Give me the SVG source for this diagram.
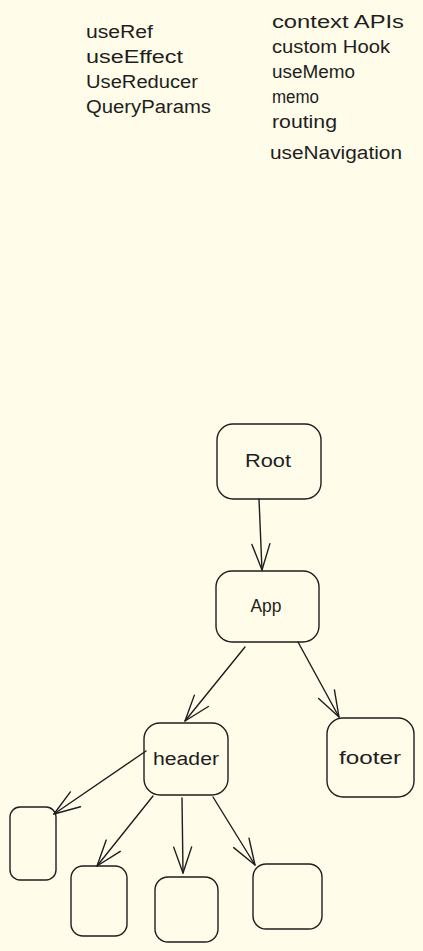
<svg xmlns="http://www.w3.org/2000/svg" width="423" height="951" viewBox="0 0 423 951">
<style>
.bg{fill:#fffce9}
.box{fill:none;stroke:#1e1e1e;stroke-width:1.4}
.lbl{font-family:"Liberation Sans","DejaVu Sans",sans-serif;font-size:18px;fill:#1e1e1e}
.note{font-family:"Liberation Sans","DejaVu Sans",sans-serif;font-size:18px;fill:#1e1e1e}
.edge{fill:none;stroke:#1e1e1e;stroke-width:1.4;stroke-linecap:round}
</style>
<defs>
<marker id="arr" markerUnits="userSpaceOnUse" markerWidth="30" markerHeight="22" viewBox="0 0 30 22" refX="28" refY="11" orient="auto">
<path d="M2,2 L28,11 L2,20" fill="none" stroke="#1e1e1e" stroke-width="1.4" stroke-linecap="round" stroke-linejoin="round"/>
</marker>
</defs>
<rect class="bg" x="0" y="0" width="423" height="951"/>
<g id="notes-left">
<text class="note" x="86" y="38" textLength="67" lengthAdjust="spacingAndGlyphs">useRef</text>
<text class="note" x="86" y="63" textLength="97" lengthAdjust="spacingAndGlyphs">useEffect</text>
<text class="note" x="86" y="88" textLength="112" lengthAdjust="spacingAndGlyphs">UseReducer</text>
<text class="note" x="86" y="113" textLength="125" lengthAdjust="spacingAndGlyphs">QueryParams</text>
</g>
<g id="notes-right">
<text class="note" x="272" y="28" textLength="132" lengthAdjust="spacingAndGlyphs">context APIs</text>
<text class="note" x="272" y="53" textLength="118" lengthAdjust="spacingAndGlyphs">custom Hook</text>
<text class="note" x="272" y="78" textLength="83" lengthAdjust="spacingAndGlyphs">useMemo</text>
<text class="note" x="272" y="103" textLength="47" lengthAdjust="spacingAndGlyphs">memo</text>
<text class="note" x="272" y="128" textLength="65" lengthAdjust="spacingAndGlyphs">routing</text>
<text class="note" x="270" y="159" textLength="132" lengthAdjust="spacingAndGlyphs">useNavigation</text>
</g>
<g id="connectors">
<path class="edge" d="M259,499 L262,570" marker-end="url(#arr)"/>
<path class="edge" d="M245,647 L185,721" marker-end="url(#arr)"/>
<path class="edge" d="M298,642 L339,717" marker-end="url(#arr)"/>
<path class="edge" d="M146,751 L54,814" marker-end="url(#arr)"/>
<path class="edge" d="M153,796 L97,866" marker-end="url(#arr)"/>
<path class="edge" d="M182,798 L183,873" marker-end="url(#arr)"/>
<path class="edge" d="M213,797 L255,865" marker-end="url(#arr)"/>
</g>
<g id="node-root">
<rect class="box" x="217" y="424" width="104" height="75" rx="16"/>
<text class="lbl" x="268" y="467" text-anchor="middle" textLength="46" lengthAdjust="spacingAndGlyphs">Root</text>
</g>
<g id="node-app">
<rect class="box" x="216" y="571" width="103" height="71" rx="16"/>
<text class="lbl" x="266" y="612" text-anchor="middle" textLength="31" lengthAdjust="spacingAndGlyphs">App</text>
</g>
<g id="node-header">
<rect class="box" x="144" y="723" width="84" height="72" rx="16"/>
<text class="lbl" x="186" y="765" text-anchor="middle" textLength="66" lengthAdjust="spacingAndGlyphs">header</text>
</g>
<g id="node-footer">
<rect class="box" x="327" y="718" width="87" height="79" rx="16"/>
<text class="lbl" x="370" y="764" text-anchor="middle" textLength="62" lengthAdjust="spacingAndGlyphs">footer</text>
</g>
<g id="node-child1">
<rect class="box" x="10" y="807" width="46" height="73" rx="10"/>
</g>
<g id="node-child2">
<rect class="box" x="71" y="866" width="56" height="70" rx="12"/>
</g>
<g id="node-child3">
<rect class="box" x="155" y="877" width="63" height="65" rx="13"/>
</g>
<g id="node-child4">
<rect class="box" x="253" y="864" width="69" height="65" rx="13"/>
</g>
</svg>
